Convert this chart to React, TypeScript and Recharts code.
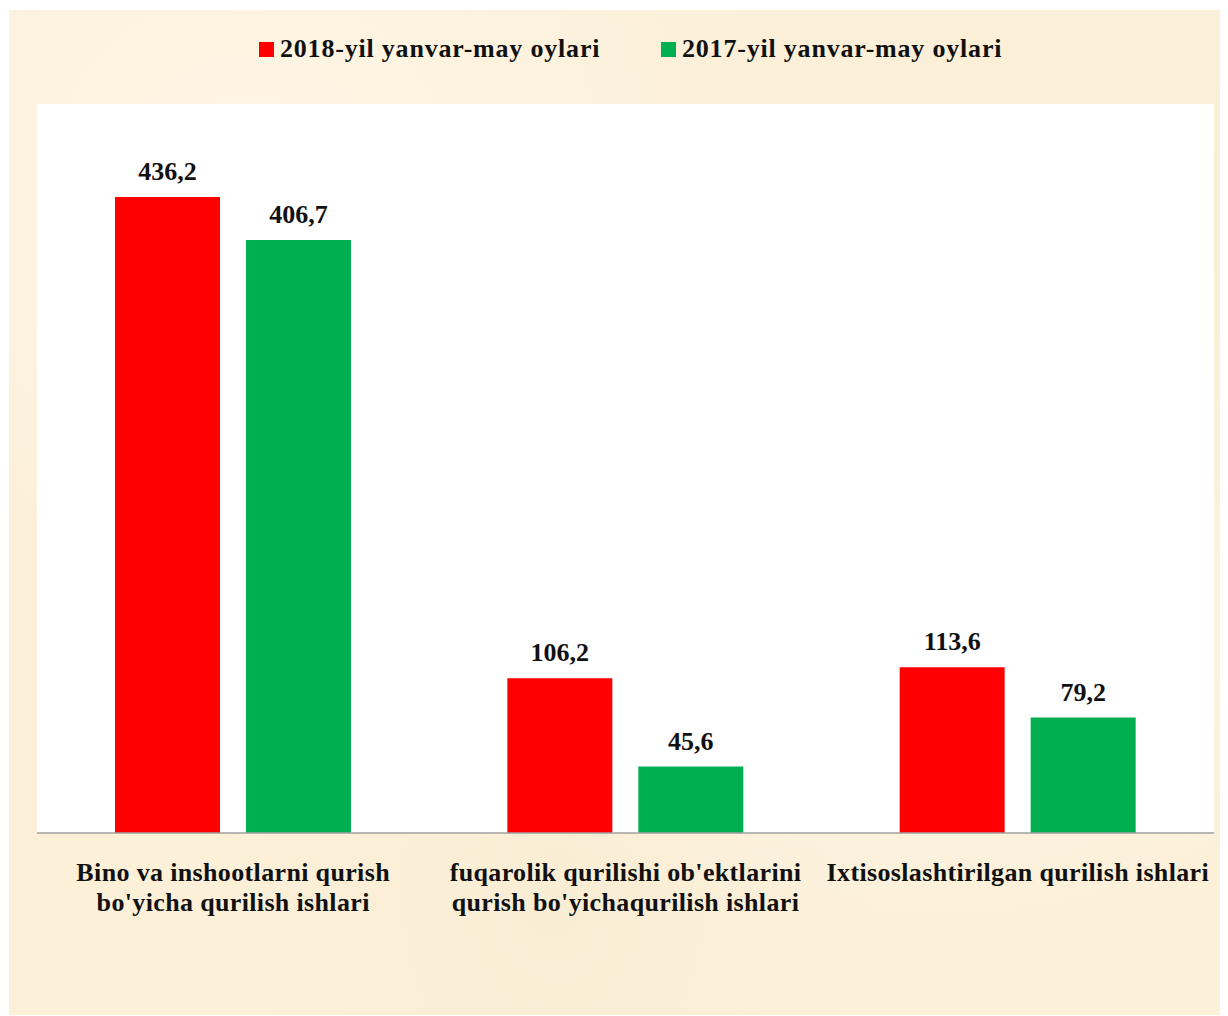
import React from 'react';
import { BarChart, Bar, XAxis, YAxis, CartesianGrid, LabelList, Legend } from 'recharts';

const categories = [
  'Bino va inshootlarni qurish\nbo\'yicha qurilish ishlari',
  'fuqarolik qurilishi ob\'ektlarini\nqurish bo\'yichaqurilish ishlari',
  'Ixtisoslashtirilgan qurilish ishlari',
];
const series2018 = [436.2, 106.2, 113.6];
const series2017 = [406.7, 45.6, 79.2];
const seriesNames = ['2018-yil yanvar-may oylari', '2017-yil yanvar-may oylari'];
const seriesColors = ['#FF0000', '#00B050'];

const data = categories.map((c, i) => ({ name: c, s2018: series2018[i], s2017: series2017[i] }));

const FONT = '"Liberation Serif", "Times New Roman", serif';

const fmt = (v: any) => Number(v).toFixed(1).replace('.', ',');

const Tick = (props: any) => {
  const { x, y, payload } = props;
  const lines = String(payload.value).split('\n');
  return (
    <g transform={`translate(${x},${y})`}>
      {lines.map((l, i) => (
        <text
          key={i}
          x={0}
          y={40 + i * 30}
          textAnchor="middle"
          fontFamily={FONT}
          fontWeight="bold"
          fontSize={26}
          letterSpacing={0.35}
          fill="#111"
        >
          {l}
        </text>
      ))}
    </g>
  );
};

const LegendContent = () => (
  <div style={{ height: 84, position: 'relative', width: 1211 }}>
    {seriesNames.map((n, i) => (
      <div
        key={n}
        style={{
          position: 'absolute',
          left: i === 0 ? 250 : 652,
          top: 14,
          display: 'flex',
          alignItems: 'center',
          fontFamily: FONT,
          fontWeight: 'bold',
          fontSize: 26,
          letterSpacing: 0.8,
          color: '#111',
          whiteSpace: 'nowrap',
        }}
      >
        <span style={{ display: 'inline-block', width: 15, height: 15, background: seriesColors[i], marginRight: 6 }} />
        <span>{n}</span>
      </div>
    ))}
  </div>
);

export default function App() {
  return (
    <div
      style={{
        marginLeft: 1,
        marginTop: 2,
        width: 1211,
        height: 1005,
        backgroundColor: '#FCF0D9',
        backgroundImage:
          'radial-gradient(ellipse at 20% 15%, rgba(255,250,238,0.6), transparent 35%), radial-gradient(ellipse at 75% 60%, rgba(255,249,236,0.5), transparent 40%), radial-gradient(ellipse at 45% 88%, rgba(245,232,205,0.35), transparent 35%), radial-gradient(ellipse at 90% 20%, rgba(246,234,208,0.3), transparent 30%)',
      }}
    >
      <BarChart
        width={1211}
        height={1005}
        data={data}
        margin={{ top: 10, right: 6, bottom: 12, left: 28 }}
        barSize={105}
        barGap={26}
      >
        <CartesianGrid fill="#FFFFFF" stroke="none" horizontal={false} vertical={false} />
        <Legend
          verticalAlign="top"
          wrapperStyle={{ left: 0, top: 10, width: 1211 }}
          content={<LegendContent />}
        />
        <XAxis
          dataKey="name"
          height={170}
          tickLine={false}
          axisLine={{ stroke: '#A0A0A0', strokeWidth: 1.5 }}
          tick={<Tick />}
          interval={0}
        />
        <YAxis hide domain={[0, 500]} />
        <Bar dataKey="s2018" name={seriesNames[0]} fill={seriesColors[0]} isAnimationActive={false}>
          <LabelList
            dataKey="s2018"
            position="top"
            offset={17}
            formatter={fmt}
            style={{ fontFamily: FONT, fontWeight: 'bold', fontSize: 26, fill: '#111' }}
          />
        </Bar>
        <Bar dataKey="s2017" name={seriesNames[1]} fill={seriesColors[1]} isAnimationActive={false}>
          <LabelList
            dataKey="s2017"
            position="top"
            offset={17}
            formatter={fmt}
            style={{ fontFamily: FONT, fontWeight: 'bold', fontSize: 26, fill: '#111' }}
          />
        </Bar>
      </BarChart>
    </div>
  );
}
